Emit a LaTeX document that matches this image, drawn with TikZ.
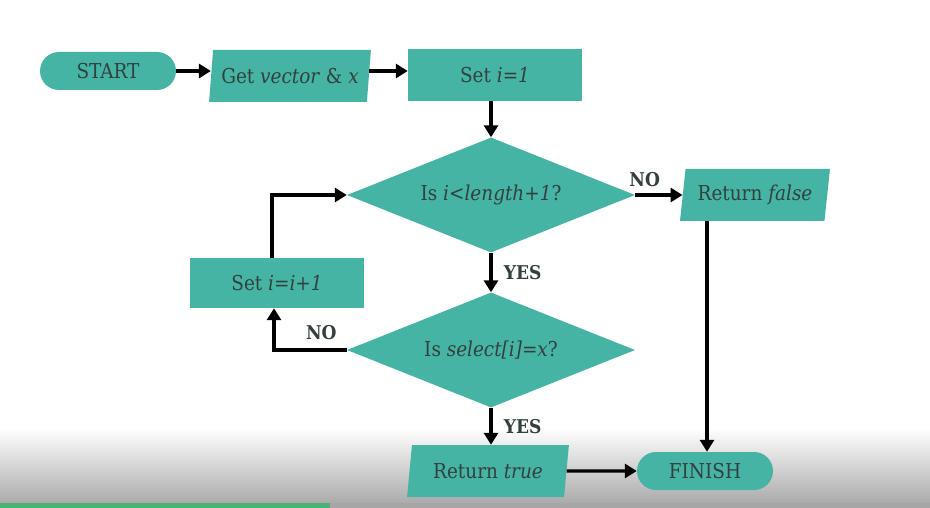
\documentclass[tikz,border=0pt]{standalone}
\usepackage{fontspec}
\setmainfont{DejaVu Serif Condensed}
\usetikzlibrary{shapes.geometric,arrows.meta}
\definecolor{tealfill}{HTML}{45B4A4}
\definecolor{txt}{HTML}{33403E}
\definecolor{barg}{HTML}{4CB273}
\tikzset{
  every node/.style={font=\fontsize{20.5}{24}\selectfont, text=txt},
  pill/.style={draw=none, fill=tealfill, rounded corners=19pt, minimum width=136pt, minimum height=38pt},
  boxnode/.style={draw=none, fill=tealfill, minimum width=174pt, minimum height=52pt},
  para/.style={draw=none, fill=tealfill, trapezium, trapezium left angle=77, trapezium right angle=103, trapezium stretches=true, minimum width=162pt, minimum height=52pt, inner sep=0pt},
  decide/.style={draw=none, fill=tealfill, diamond, aspect=2.5, minimum width=288pt, minimum height=115pt, inner sep=0pt},
  flow/.style={line width=3.3pt, -{Triangle[length=12pt,width=14pt]}},
  lbl/.style={font=\fontsize{19}{22}\selectfont\bfseries, text=txt}
}
\begin{document}
\begin{tikzpicture}[x=1pt,y=-1pt]
\useasboundingbox (0,0) rectangle (930,508);
\fill[white] (0,0) rectangle (930,508);
\shade[top color=white, bottom color=black!33] (0,428) rectangle (930,503);
\fill[black!35] (0,503) rectangle (930,508);
\fill[barg] (0,503) rectangle (330,508);

\node[pill] (start) at (108,71) {START};
\node[para] (get) at (290,76) {Get \textit{vector} \& \textit{x}};
\node[boxnode] (set1) at (495,75) {Set \textit{i=1}};
\node[decide] (d1) at (491,195) {Is \textit{i<length+1}?};
\node[para, minimum width=150pt] (rfalse) at (755,195) {Return \textit{false}};
\node[boxnode, minimum height=50pt] (inc) at (277,283) {Set \textit{i=i+1}};
\node[decide] (d2) at (491,350) {Is \textit{select[i]=x}?};
\node[para] (rtrue) at (488,471) {Return \textit{true}};
\node[pill] (finish) at (705,471) {FINISH};

\draw[flow] (start.east) -- (get.west |- start.east);
\draw[flow] (get.east |- start.east) -- (set1.west |- start.east);
\draw[flow] (set1.south -| d1.north) -- (d1.north);
\draw[flow] (d1.east) -- (rfalse.west |- d1.east) node[lbl, pos=0.2, above, yshift=3pt] {NO};
\draw[flow] (d1.south) -- (d2.north) node[lbl, midway, right, xshift=8pt] {YES};
\draw[flow] (d2.west) -| (inc.south -| 274,0) node[lbl, pos=0.175, above, yshift=5pt] {NO};
\draw[flow] (inc.north -| 272,0) |- (d1.west);
\draw[flow] (d2.south) -- (rtrue.north -| d2.south) node[lbl, midway, right, xshift=8pt] {YES};
\draw[flow] (rtrue.east) -- (finish.west);
\draw[flow] (rfalse.south -| 707,0) -- (finish.north -| 707,0);
\end{tikzpicture}
\end{document}
